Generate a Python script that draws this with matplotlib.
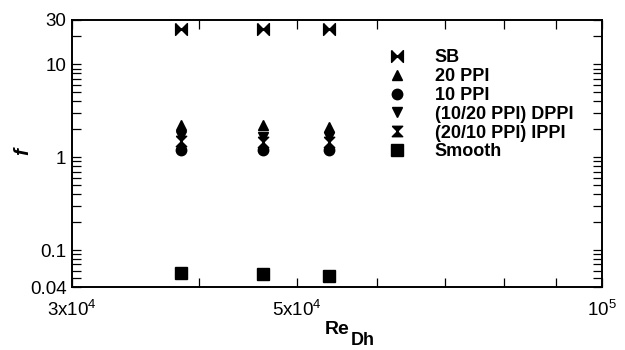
import matplotlib
matplotlib.use("Agg")
import matplotlib.pyplot as plt
from matplotlib.ticker import FixedLocator, FixedFormatter, NullFormatter

plt.rcParams['font.family'] = ['Liberation Sans', 'DejaVu Sans']
plt.rcParams['mathtext.fontset'] = 'custom'
plt.rcParams['mathtext.rm'] = 'Liberation Sans'
plt.rcParams['mathtext.bf'] = 'Liberation Sans:bold'
plt.rcParams['mathtext.it'] = 'Liberation Sans:italic'

# ---- data ----
re_dh = [38400, 46300, 53800]
f_sb = [24, 24, 24]
f_20ppi = [2.2, 2.2, 2.1]
f_10ppi = [1.19, 1.19, 1.18]
f_dppi = [1.7, 1.63, 1.63]
f_ippi = [1.5, 1.45, 1.45]
f_smooth = [0.057, 0.055, 0.053]

labels = ['SB', '20 PPI', '10 PPI', '(10/20 PPI) DPPI', '(20/10 PPI) IPPI', 'Smooth']

xticks = [3e4, 5e4, 1e5]
xticklabels = ['3x10$^{4}$', '5x10$^{4}$', '10$^{5}$']
xminor = [4e4, 6e4, 7e4, 8e4, 9e4]
yticks = [0.04, 0.1, 1, 10, 30]
yticklabels = ['0.04', '0.1', '1', '10', '30']
yminor = [0.05, 0.06, 0.07, 0.08, 0.09, 0.2, 0.3, 0.4, 0.5, 0.6, 0.7, 0.8, 0.9,
          2, 3, 4, 5, 6, 7, 8, 9, 20]

bowtie = [(-1, 1), (1, -1), (1, 1), (-1, -1), (-1, 1)]
hourglass = [(-1, 1), (1, 1), (-1, -1), (1, -1), (-1, 1)]

fig = plt.figure(figsize=(6.25, 3.5), dpi=100)
ax = fig.add_axes([0.1152, 0.18, 0.848, 0.763])

ax.plot(re_dh, f_sb, linestyle='none', marker=bowtie, color='black', ms=8.5, label=labels[0])
ax.plot(re_dh, f_20ppi, linestyle='none', marker='^', color='black', ms=7.2, label=labels[1])
ax.plot(re_dh, f_10ppi, linestyle='none', marker='o', color='black', ms=7.5, label=labels[2])
ax.plot(re_dh, f_dppi, linestyle='none', marker='v', color='black', ms=7.2, label=labels[3])
ax.plot(re_dh, f_ippi, linestyle='none', marker=hourglass, color='black', ms=7.5, label=labels[4])
ax.plot(re_dh, f_smooth, linestyle='none', marker='s', color='black', ms=8.5, label=labels[5])

ax.set_xscale('log')
ax.set_yscale('log')
ax.set_xlim(3e4, 1e5)
ax.set_ylim(0.04, 30)

ax.xaxis.set_major_locator(FixedLocator(xticks))
ax.xaxis.set_major_formatter(FixedFormatter(xticklabels))
ax.xaxis.set_minor_locator(FixedLocator(xminor))
ax.xaxis.set_minor_formatter(NullFormatter())
ax.yaxis.set_major_locator(FixedLocator(yticks))
ax.yaxis.set_major_formatter(FixedFormatter(yticklabels))
ax.yaxis.set_minor_locator(FixedLocator(yminor))
ax.yaxis.set_minor_formatter(NullFormatter())

for s in ax.spines.values():
    s.set_linewidth(1.4)
ax.tick_params(which='both', direction='in', top=True, right=True, length=6.5, width=0.9,
               labelsize=13.5, colors='black')
ax.tick_params(axis='x', which='major', pad=9)
ax.tick_params(axis='y', which='major', pad=4)

xl = ax.set_xlabel('Re', fontsize=14, fontweight='bold', labelpad=1)
ax.annotate('Dh', xy=(1.0, 0.0), xycoords=xl, xytext=(1, -2), textcoords='offset points',
            fontsize=13, fontweight='bold', ha='left', va='center')
ax.set_ylabel('f', fontsize=15, fontweight='bold', fontstyle='italic')
ax.yaxis.set_label_coords(-0.075, 0.506)

leg = ax.legend(loc='upper left', bbox_to_anchor=(0.596, 0.89), frameon=False,
                prop={'weight': 'bold', 'size': 13}, handlelength=1.0,
                handletextpad=1.6, labelspacing=0.1, borderaxespad=0, borderpad=0)

fig.savefig('out.png', dpi=100)
